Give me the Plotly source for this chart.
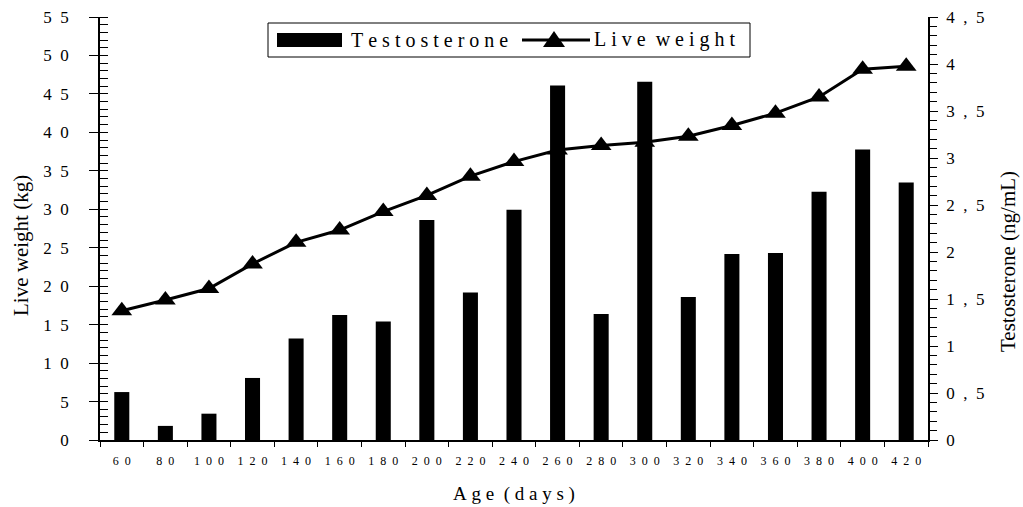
import plotly.graph_objects as go

ages = ["60", "80", "100", "120", "140", "160", "180", "200", "220", "240",
        "260", "280", "300", "320", "340", "360", "380", "400", "420"]
testosterone = [0.51, 0.15, 0.28, 0.66, 1.08, 1.33, 1.26, 2.34, 1.57, 2.45,
                3.77, 1.34, 3.81, 1.52, 1.98, 1.99, 2.64, 3.09, 2.74]
live_weight = [16.8, 18.2, 19.7, 22.9, 25.7, 27.3, 29.7, 31.8, 34.3, 36.2,
               37.7, 38.3, 38.7, 39.5, 40.9, 42.5, 44.6, 48.2, 48.6]

left_ticks = [0, 5, 10, 15, 20, 25, 30, 35, 40, 45, 50, 55]
left_labels = ["0", "5", "10", "15", "20", "25", "30", "35", "40", "45", "50", "55"]
right_ticks = [0, 0.5, 1, 1.5, 2, 2.5, 3, 3.5, 4, 4.5]
right_labels = ["0", "0,5", "1", "1,5", "2", "2,5", "3", "3,5", "4", "4,5"]

name_bar = "Testosterone"
name_line = "Live weight"
x_title = "Age (days)"
y_title = "Live weight (kg)"
y2_title = "Testosterone (ng/mL)"

FONT = "Liberation Serif, Times New Roman, serif"
NB = "\u00a0"
EN = "\u2002"


def spaced(s, sep):
    words = s.split(" ")
    return (sep + sep).join(sep.join(list(w)) for w in words)


W, H = 1023, 507
L, R, T, B = 100, 95, 17, 67
PW, PH = W - L - R, H - T - B


def px(x):
    return (x - L) / PW


def py(y):
    return (H - B - y) / PH


fig = go.Figure()
fig.add_trace(go.Bar(
    x=ages, y=testosterone, name=name_bar, yaxis="y2", showlegend=False,
    marker=dict(color="black", line=dict(width=0)), width=0.345,
))
fig.add_trace(go.Scatter(
    x=ages, y=live_weight, name=name_line, yaxis="y", showlegend=False,
    mode="lines+markers",
    line=dict(color="black", width=3),
    marker=dict(symbol="triangle-up", size=18, color="black"),
))

# legend box (drawn to match the original's wide swatches)
shapes = [
    dict(type="rect", xref="paper", yref="paper", x0=px(268), x1=px(750), y0=py(57), y1=py(23),
         line=dict(color="black", width=1), fillcolor="white", layer="above"),
    dict(type="rect", xref="paper", yref="paper", x0=px(277), x1=px(342), y0=py(47), y1=py(33),
         line=dict(width=0), fillcolor="black", layer="above"),
    dict(type="line", xref="paper", yref="paper", x0=px(522), x1=px(590), y0=py(40), y1=py(40),
         line=dict(color="black", width=3), layer="above"),
    dict(type="path", xref="paper", yref="paper",
         path="M {:.5f},{:.5f} L {:.5f},{:.5f} L {:.5f},{:.5f} Z".format(
             px(543), py(47), px(565), py(47), px(554), py(31)),
         line=dict(color="black", width=0), fillcolor="black", layer="above"),
]

annotations = [
    dict(text=spaced(name_bar, NB), xref="paper", yref="paper", x=px(349), y=py(40),
         xanchor="left", yanchor="middle", showarrow=False,
         font=dict(family=FONT, size=20, color="black")),
    dict(text=spaced(name_line, NB), xref="paper", yref="paper", x=px(592), y=py(40),
         xanchor="left", yanchor="middle", showarrow=False,
         font=dict(family=FONT, size=20, color="black")),
    dict(text=y_title, textangle=-90, xref="paper", yref="paper",
         x=px(21), y=py(246), xanchor="center", yanchor="middle", showarrow=False,
         font=dict(family=FONT, size=21, color="black")),
    dict(text=y2_title, textangle=-90, xref="paper", yref="paper",
         x=px(1008), y=py(262), xanchor="center", yanchor="middle", showarrow=False,
         font=dict(family=FONT, size=21, color="black")),
]

fig.update_layout(
    width=W, height=H,
    margin=dict(l=L, r=R, t=T, b=B, autoexpand=False),
    paper_bgcolor="white", plot_bgcolor="white",
    font=dict(family=FONT, color="black"),
    showlegend=False,
    shapes=shapes,
    annotations=annotations,
    xaxis=dict(
        type="category", categoryorder="array", categoryarray=ages,
        range=[-0.5, len(ages) - 0.5],
        tickvals=ages, ticktext=[spaced(a, EN) for a in ages],
        tickson="boundaries", ticks="outside", ticklen=5, tickcolor="black",
        showline=True, linecolor="black", linewidth=1.5,
        showgrid=False, zeroline=False, automargin=False,
        tickfont=dict(family=FONT, size=12, color="black"),
        ticklabelstandoff=9,
        title=dict(text=spaced(x_title, NB),
                   font=dict(family=FONT, size=19, color="black"), standoff=20),
    ),
    yaxis=dict(
        range=[0, 55], tickvals=left_ticks, ticktext=[spaced(t, EN) for t in left_labels],
        ticks="outside", ticklen=9, tickcolor="black",
        minor=dict(dtick=1, ticks="inside", ticklen=8, tickcolor="black", showgrid=False),
        showline=True, linecolor="black", linewidth=1.5,
        showgrid=False, zeroline=False, automargin=False,
        tickfont=dict(family=FONT, size=17, color="black"),
        ticklabelstandoff=17,
    ),
    yaxis2=dict(
        range=[0, 4.5], tickvals=right_ticks, ticktext=[spaced(t, EN) for t in right_labels],
        overlaying="y", side="right", anchor="x",
        ticks="outside", ticklen=8, tickcolor="black",
        minor=dict(dtick=0.1, ticks="outside", ticklen=7, tickcolor="black", showgrid=False),
        showline=True, linecolor="black", linewidth=1.5,
        showgrid=False, zeroline=False, automargin=False,
        tickfont=dict(family=FONT, size=17, color="black"),
        ticklabelstandoff=5,
    ),
)

fig.write_html("out.html", config={"displayModeBar": False},
               post_script="document.body.style.margin='0';document.body.style.padding='0';")
